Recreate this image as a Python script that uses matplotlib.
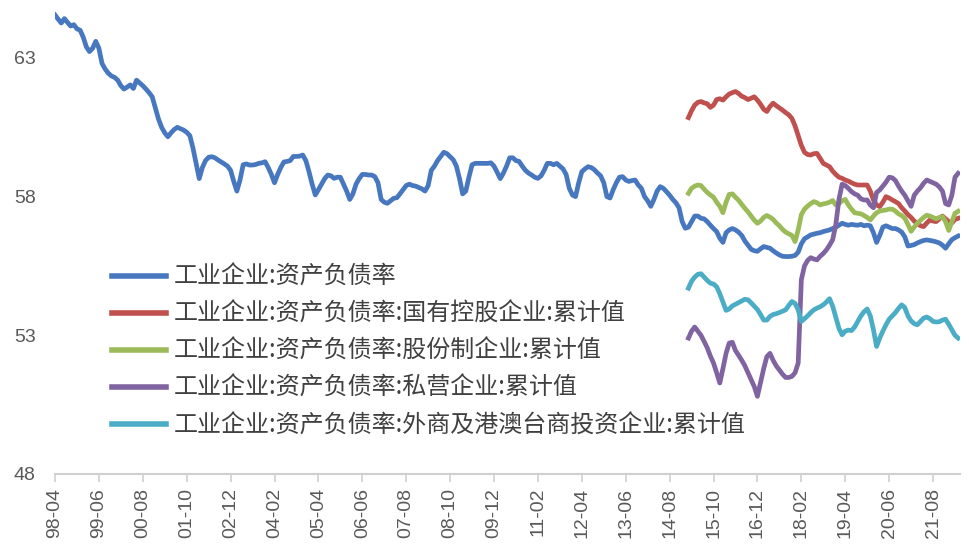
import numpy as np
import pandas as pd
import matplotlib
matplotlib.use('Agg')
import matplotlib.pyplot as plt

plt.rcParams['font.family'] = ['Noto Sans CJK SC', 'DejaVu Sans']

# monthly, starting 1998-04
start = '1998-04'
sub_start = 202  # 2015-02, first month of the breakdown by ownership

total = [
    64.55, 64.4, 64.26, 64.42, 64.28, 64.15, 64.2, 64.05, 64.0, 63.75,
    63.4, 63.23, 63.35, 63.6, 63.35, 62.8, 62.6, 62.45, 62.35, 62.3,
    62.2, 62.0, 61.88, 61.95, 62.03, 61.9, 62.2, 62.1, 62.0, 61.88,
    61.75, 61.6, 61.2, 60.8, 60.5, 60.3, 60.16, 60.3, 60.42, 60.5,
    60.45, 60.4, 60.32, 60.2, 59.75, 59.2, 58.65, 59.05, 59.3, 59.42,
    59.44, 59.4, 59.32, 59.25, 59.18, 59.1, 58.95, 58.55, 58.2, 58.6,
    59.15, 59.18, 59.14, 59.14, 59.16, 59.2, 59.22, 59.26, 59.05, 58.8,
    58.5, 58.8, 59.05, 59.25, 59.27, 59.3, 59.45, 59.45, 59.46, 59.5,
    59.3, 58.9, 58.45, 58.06, 58.25, 58.45, 58.65, 58.78, 58.75, 58.66,
    58.7, 58.7, 58.45, 58.2, 57.9, 58.1, 58.45, 58.65, 58.8, 58.8,
    58.78, 58.78, 58.72, 58.5, 57.9, 57.8, 57.76, 57.85, 57.94, 57.96,
    58.1, 58.25, 58.4, 58.45, 58.4, 58.38, 58.33, 58.28, 58.2, 58.4,
    58.95, 59.1, 59.3, 59.45, 59.6, 59.55, 59.44, 59.33, 59.1, 58.65,
    58.1, 58.2, 58.7, 59.15, 59.2, 59.2, 59.2, 59.2, 59.2, 59.22,
    59.1, 58.88, 58.65, 58.85, 59.1, 59.4, 59.4, 59.3, 59.27, 59.1,
    58.95, 58.85, 58.78, 58.7, 58.66, 58.75, 58.95, 59.2, 59.2, 59.15,
    59.2, 59.1, 59.0, 58.8, 58.3, 58.06, 58.0, 58.5, 58.9, 59.0,
    59.08, 59.05, 58.97, 58.85, 58.75, 58.5, 58.0, 57.95, 58.25, 58.5,
    58.7, 58.72, 58.6, 58.55, 58.58, 58.6, 58.42, 58.3, 58.0, 57.85,
    57.65, 57.9, 58.2, 58.36, 58.3, 58.18, 58.05, 57.9, 57.78, 57.6,
    57.1, 56.86, 56.9, 57.1, 57.3, 57.3, 57.22, 57.2, 57.1, 56.97,
    56.85, 56.74, 56.5, 56.35, 56.7, 56.8, 56.85, 56.8, 56.72, 56.6,
    56.4, 56.25, 56.1, 56.05, 56.03, 56.12, 56.2, 56.17, 56.14, 56.05,
    55.97, 55.9, 55.85, 55.84, 55.84, 55.85, 55.88, 56.0, 56.3, 56.48,
    56.55, 56.62, 56.65, 56.68, 56.7, 56.74, 56.77, 56.8, 56.85, 56.9,
    56.97, 57.04, 57.0, 56.97, 57.0, 56.98, 56.97, 57.0, 56.95, 56.97,
    56.95, 56.7, 56.35, 56.6, 56.9, 56.95, 56.9, 56.85, 56.85, 56.8,
    56.72, 56.55, 56.22, 56.24, 56.27, 56.33, 56.38, 56.42, 56.44, 56.42,
    56.4, 56.37, 56.33, 56.25, 56.14, 56.3, 56.45, 56.52, 56.58,
]

state_owned = [
    60.85, 61.1, 61.3, 61.4, 61.43, 61.38, 61.35, 61.22, 61.3, 61.5,
    61.53, 61.48, 61.6, 61.7, 61.75, 61.79, 61.72, 61.62, 61.57, 61.5,
    61.55, 61.6, 61.48, 61.33, 61.15, 61.07, 61.25, 61.37, 61.28, 61.2,
    61.12, 61.03, 60.95, 60.82, 60.55, 60.2, 59.85, 59.6, 59.52, 59.5,
    59.55, 59.56, 59.38, 59.2, 59.14, 59.08, 58.92, 58.8, 58.7, 58.66,
    58.6, 58.56, 58.5, 58.45, 58.42, 58.42, 58.42, 58.42, 58.2, 57.88,
    57.7, 57.64, 57.8, 58.0, 57.95, 57.88, 57.82, 57.75, 57.6, 57.48,
    57.35, 57.25, 57.12, 57.02, 56.95, 56.92, 57.05, 57.16, 57.12, 57.1,
    57.2, 57.3, 57.2, 57.1, 57.05, 57.18, 57.22,
]

joint_stock = [
    58.12, 58.3, 58.38, 58.42, 58.4, 58.27, 58.15, 58.06, 57.98, 57.8,
    57.65, 57.42, 57.8, 58.08, 58.1, 57.98, 57.87, 57.72, 57.58, 57.45,
    57.3, 57.15, 57.04, 57.12, 57.25, 57.32, 57.26, 57.18, 57.05, 56.95,
    56.82, 56.72, 56.66, 56.6, 56.38, 56.8, 57.35, 57.55, 57.66, 57.75,
    57.82, 57.78, 57.7, 57.74, 57.76, 57.8, 57.86, 57.7, 57.75, 57.85,
    57.9, 57.7, 57.55, 57.42, 57.4, 57.38, 57.32, 57.25, 57.16, 57.3,
    57.42, 57.48, 57.5, 57.52, 57.55, 57.55, 57.48, 57.38, 57.32, 57.22,
    57.0, 56.75, 56.9, 57.04, 57.15, 57.25, 57.33, 57.3, 57.25, 57.2,
    57.25, 57.28, 57.1, 56.78, 57.1, 57.4, 57.47,
]

private = [
    52.9, 53.15, 53.3, 53.15, 53.0, 52.78, 52.55, 52.25, 52.0, 51.65,
    51.28, 51.8, 52.35, 52.72, 52.75, 52.45, 52.28, 52.1, 51.9, 51.65,
    51.4, 51.15, 50.8, 51.3, 51.8, 52.23, 52.35, 52.1, 51.9, 51.75,
    51.6, 51.48, 51.48, 51.52, 51.65, 52.0, 55.0, 55.5, 55.7, 55.8,
    55.75, 55.72, 55.85, 55.95, 56.08, 56.25, 56.45, 57.0, 57.9, 58.45,
    58.4, 58.3, 58.18, 58.1, 58.05, 57.92, 57.88, 57.88, 57.7, 57.6,
    58.15, 58.24, 58.38, 58.52, 58.7, 58.68, 58.58, 58.38, 58.2, 58.05,
    57.85, 57.65, 58.05, 58.2, 58.32, 58.48, 58.6, 58.55, 58.5, 58.45,
    58.35, 58.2, 57.75, 57.7, 58.05, 58.7, 58.84,
]

foreign = [
    54.7, 54.95, 55.1, 55.2, 55.22, 55.1, 54.98, 54.88, 54.85, 54.75,
    54.5, 54.2, 53.9, 53.95, 54.06, 54.12, 54.18, 54.24, 54.3, 54.28,
    54.17, 54.05, 53.93, 53.75, 53.55, 53.55, 53.68, 53.75, 53.78, 53.82,
    53.87, 53.92, 54.08, 54.22, 54.15, 53.92, 53.5, 53.6, 53.7, 53.82,
    53.92, 53.98, 54.03, 54.1, 54.2, 54.32, 54.05, 53.65, 53.25, 53.02,
    53.15, 53.19, 53.17, 53.3, 53.5, 53.7, 53.85, 53.95, 53.7, 53.2,
    52.6, 52.9, 53.15, 53.38, 53.58, 53.7, 53.82, 53.97, 54.1, 54.0,
    53.7, 53.52, 53.42, 53.38, 53.5, 53.62, 53.66, 53.6, 53.5, 53.48,
    53.49, 53.55, 53.58, 53.4, 53.2, 53.0, 52.9,
]

labels = [
    '工业企业:资产负债率',
    '工业企业:资产负债率:国有控股企业:累计值',
    '工业企业:资产负债率:股份制企业:累计值',
    '工业企业:资产负债率:私营企业:累计值',
    '工业企业:资产负债率:外商及港澳台商投资企业:累计值',
]
colors = ['#4677BF', '#C0504D', '#9BBB59', '#8064A2', '#4BACC6']

months = pd.date_range(start, periods=len(total), freq='MS')
x_all = np.arange(len(total))

fig = plt.figure(figsize=(9.7, 5.48), dpi=100)
ax = fig.add_axes([55 / 970, 74 / 548, 905 / 970, 474 / 548])

ax.plot(x_all, total, color=colors[0], lw=3.4, label=labels[0],
        solid_joinstyle='round')
for series, lab, col in zip([state_owned, joint_stock, private, foreign],
                            labels[1:], colors[1:]):
    xs = np.arange(sub_start, sub_start + len(series))
    ax.plot(xs, series, color=col, lw=3.4, label=lab, solid_joinstyle='round')

ax.set_xlim(0, 288.6)
ax.set_ylim(48, 65.09)
ax.set_yticks([48, 53, 58, 63])

tick_pos = np.arange(0, len(total), 14)
ax.set_xticks(tick_pos)
ax.set_xticklabels([months[i].strftime('%y-%m') for i in tick_pos],
                   rotation=90, family='Liberation Sans')
for lab in ax.get_yticklabels():
    lab.set_family('Liberation Sans')

ax.tick_params(axis='x', length=6, width=1.2, color='#D0D0D0',
               labelsize=14, labelcolor='#595959', pad=4)
ax.tick_params(axis='y', length=0, labelsize=14, labelcolor='#595959', pad=14)

for side in ['top', 'right', 'left']:
    ax.spines[side].set_visible(False)
ax.spines['bottom'].set_color('#D0D0D0')
ax.spines['bottom'].set_linewidth(1.5)

leg = ax.legend(loc='upper left', bbox_to_anchor=(112 / 970, 1 - 264 / 548),
                bbox_transform=fig.transFigure, frameon=False, fontsize=17.3,
                handlelength=2.25, handletextpad=0.3, labelspacing=0.46,
                borderpad=0, borderaxespad=0)
for t in leg.get_texts():
    t.set_color('#404040')
for h in leg.get_lines():
    h.set_linewidth(4)

fig.savefig('out.png', dpi=100)
